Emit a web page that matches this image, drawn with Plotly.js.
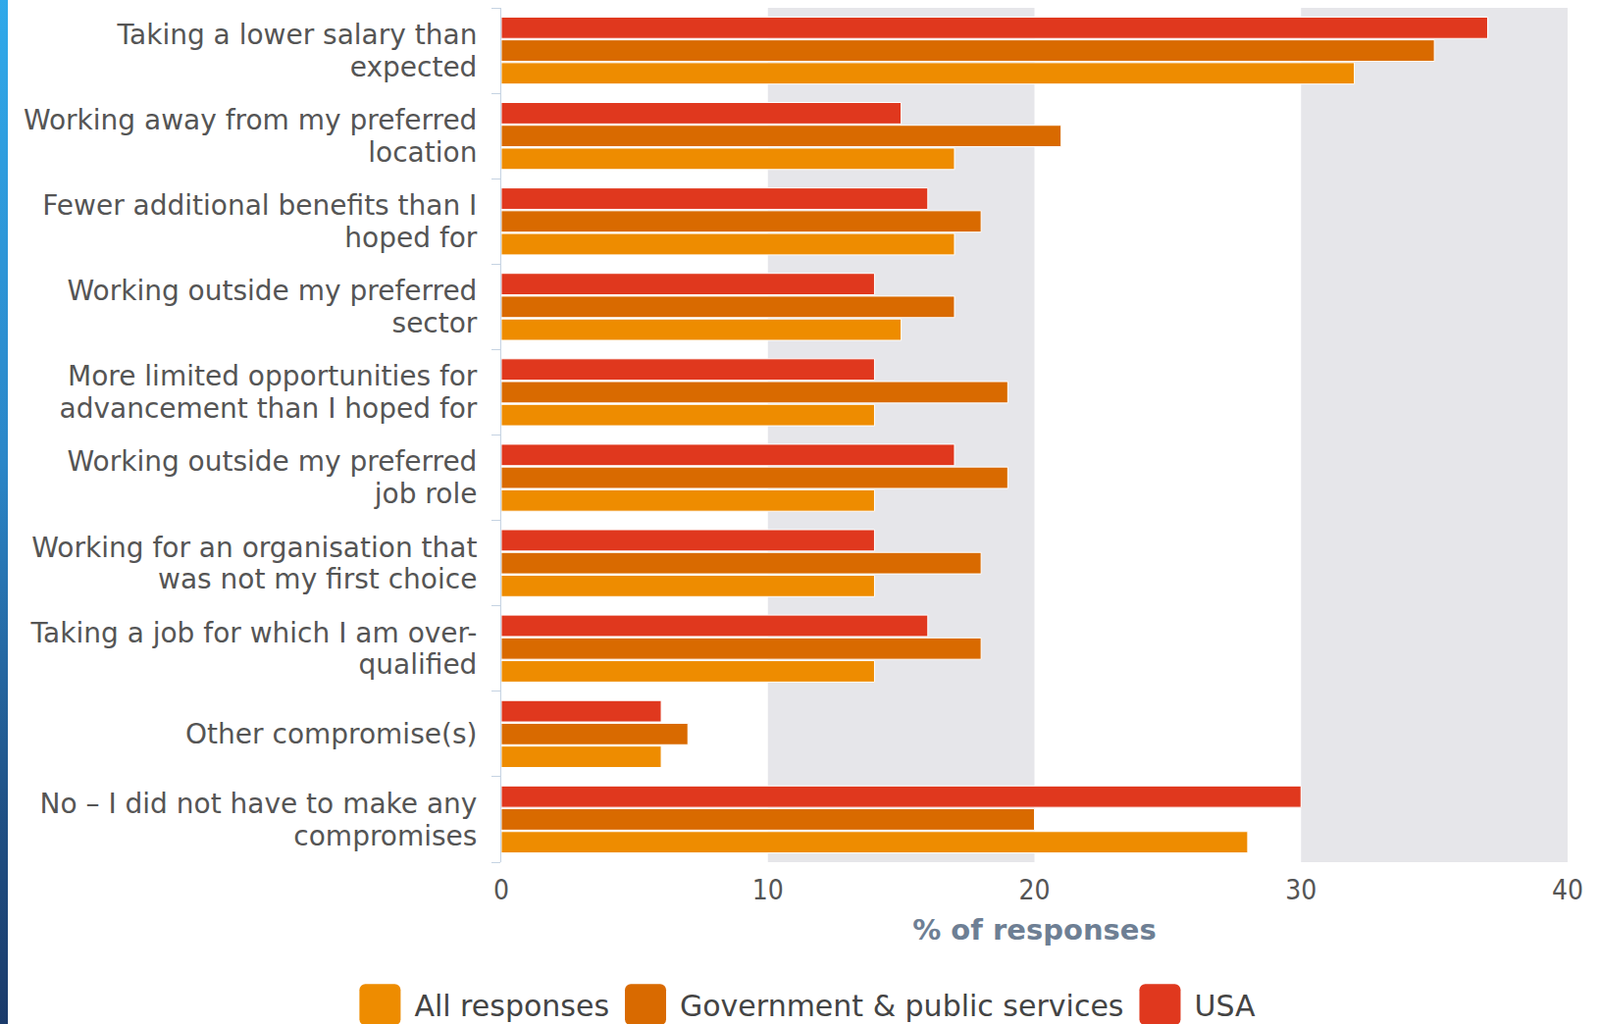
<!DOCTYPE html>
<html>
<head>
<meta charset="utf-8">
<script src="https://cdn.plot.ly/plotly-3.0.1.min.js"></script>
<style>
  html, body { margin: 0; padding: 0; background: #ffffff; overflow: hidden; }
  #chart { width: 1631px; height: 1044px; }
  #strip { position: absolute; left: 0; top: 0; width: 8px; height: 1044px;
           background: linear-gradient(to bottom, #2FA9EA 0%, #2A86C8 45%, #1E4F84 80%, #1A3A6A 100%); z-index: 5; }
</style>
</head>
<body>
<div id="strip"></div>
<div id="chart"></div>
<script>
const categories = [
  "Taking a lower salary than<br>expected",
  "Working away from my preferred<br>location",
  "Fewer additional benefits than I<br>hoped for",
  "Working outside my preferred<br>sector",
  "More limited opportunities for<br>advancement than I hoped for",
  "Working outside my preferred<br>job role",
  "Working for an organisation that<br>was not my first choice",
  "Taking a job for which I am over-<br>qualified",
  "Other compromise(s)",
  "No – I did not have to make any<br>compromises"
];
const allResponses = [32, 17, 17, 15, 14, 14, 14, 14, 6, 28];
const government   = [35, 21, 18, 17, 19, 19, 18, 18, 7, 20];
const usa          = [37, 15, 16, 14, 14, 17, 14, 16, 6, 30];
const seriesNames = ["All responses", "Government & public services", "USA"];
const xTicks = [0, 10, 20, 30, 40];

const colors = ["#EE8C00", "#D96A00", "#E0381E"];
const values = [allResponses, government, usa];

const LABEL_SIZE = 28;

const traces = values.map((v, i) => ({
  type: "bar",
  orientation: "h",
  name: seriesNames[i],
  x: v,
  y: categories,
  marker: { color: colors[i], line: { width: 1, color: "#FFFFFF" } },
  hoverinfo: "x+name"
}));

const layout = {
  width: 1631,
  height: 1044,
  margin: { l: 511, r: 33, t: 8, b: 165, pad: 0 },
  paper_bgcolor: "#ffffff",
  plot_bgcolor: "#ffffff",
  barmode: "group",
  bargap: 0.2,
  bargroupgap: 0.06,
  font: { family: "DejaVu Sans, sans-serif", color: "#555555" },
  xaxis: {
    range: [0, 40],
    tickvals: xTicks,
    ticktext: xTicks.map(String),
    showgrid: false,
    zeroline: false,
    showline: false,
    ticks: "",
    ticklabelstandoff: 9,
    tickfont: { family: "DejaVu Sans Condensed, DejaVu Sans, sans-serif", size: 28, color: "#555555" },
    title: {
      text: "% of responses",
      standoff: 14,
      font: { family: "DejaVu Sans, sans-serif", size: 29, color: "#6E7F94", weight: "bold" }
    }
  },
  yaxis: {
    type: "category",
    categoryorder: "array",
    categoryarray: categories.slice().reverse(),
    showgrid: false,
    zeroline: false,
    showline: true,
    linecolor: "#C5D3E2",
    linewidth: 1,
    ticks: "outside",
    tickson: "boundaries",
    ticklen: 9,
    tickcolor: "#C5D3E2",
    ticklabelstandoff: 18,
    tickfont: { family: "DejaVu Sans, sans-serif", size: LABEL_SIZE, color: "#555555" }
  },
  shapes: [
    { type: "rect", xref: "x", yref: "paper", x0: 10, x1: 20, y0: 0, y1: 1, fillcolor: "#E6E6EA", line: { width: 0 }, layer: "below" },
    { type: "rect", xref: "x", yref: "paper", x0: 30, x1: 40, y0: 0, y1: 1, fillcolor: "#E6E6EA", line: { width: 0 }, layer: "below" }
  ],
  showlegend: true,
  legend: {
    orientation: "h",
    x: 0.503, xref: "container", xanchor: "center",
    y: 0.019, yref: "container", yanchor: "middle",
    font: { family: "DejaVu Sans, sans-serif", size: 30, color: "#444444" },
    itemwidth: 57,
    traceorder: "normal"
  }
};

function tidy(gd) {
  // slightly tighter line spacing for two-line category labels
  const LS = 1.17;
  gd.querySelectorAll("g.ytick text").forEach(t => {
    const lines = t.querySelectorAll("tspan.line");
    if (lines.length > 1 && !t.dataset.tight) {
      const fs = parseFloat(t.style.fontSize) || LABEL_SIZE;
      const delta = (1.3 - LS) * (lines.length - 1) / 2 * fs;
      lines.forEach((ln, i) => {
        ln.setAttribute("dy", (i * LS) + "em");
        ln.setAttribute("y", parseFloat(ln.getAttribute("y") || 0) + delta);
      });
      t.dataset.tight = "1";
    }
  });
  // large rounded legend swatches
  gd.querySelectorAll("g.legend g.traces").forEach(tr => {
    const txt = tr.querySelector("text.legendtext");
    const paths = Array.from(tr.querySelectorAll("g.legendpoints path"))
      .filter(p => (p.getAttribute("d") || "").length > 0);
    if (!txt || !paths.length) return;
    const path = paths[0];
    const tx = parseFloat(txt.getAttribute("x") || 40);
    const m = /translate\(\s*([-\d.]+)/.exec(path.getAttribute("transform") || "");
    const cx = m ? parseFloat(m[1]) : 0;
    const l = tx - 56 - cx, r = tx - 14 - cx, t = -21, b = 21, rad = 6;
    path.setAttribute("d",
      `M${l + rad},${t}H${r - rad}A${rad},${rad} 0 0 1 ${r},${t + rad}V${b - rad}` +
      `A${rad},${rad} 0 0 1 ${r - rad},${b}H${l + rad}A${rad},${rad} 0 0 1 ${l},${b - rad}` +
      `V${t + rad}A${rad},${rad} 0 0 1 ${l + rad},${t}Z`);
    path.style.strokeWidth = "0px";
  });
}

Plotly.newPlot("chart", traces, layout, { displayModeBar: false, staticPlot: true }).then(gd => {
  tidy(gd);
  gd.on && gd.on("plotly_afterplot", () => tidy(gd));
  setTimeout(() => tidy(gd), 50);
  setTimeout(() => tidy(gd), 300);
});
</script>
</body>
</html>
